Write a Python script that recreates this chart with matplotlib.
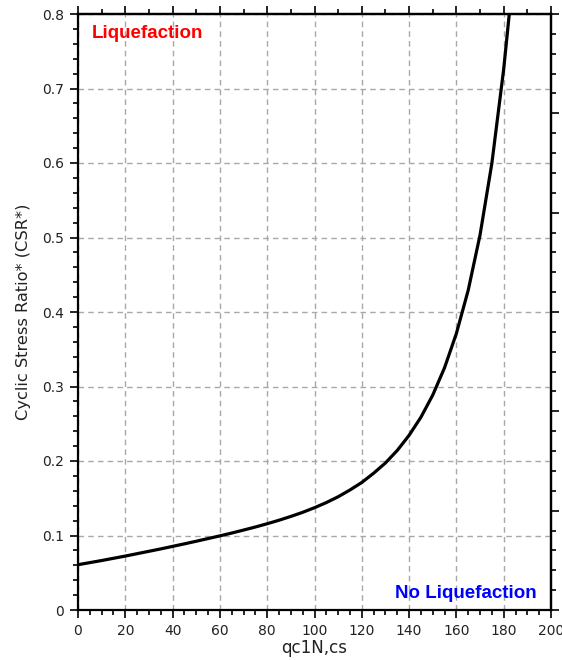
import matplotlib
matplotlib.use("Agg")
import matplotlib.pyplot as plt
from matplotlib.ticker import MultipleLocator, NullFormatter

# Data
qc1n = [0, 5, 10, 15, 20, 25, 30, 35, 40, 45, 50, 55, 60, 65, 70, 75, 80, 85, 90, 95,
        100, 105, 110, 115, 120, 125, 130, 135, 140, 145, 150, 155, 160, 165, 170,
        175, 180, 182.5, 185]
csr = [0.0608, 0.0636, 0.0664, 0.0694, 0.0724, 0.0756, 0.0788, 0.0820, 0.0854, 0.0888,
       0.0923, 0.0959, 0.0995, 0.1033, 0.1073, 0.1114, 0.1158, 0.1205, 0.1256, 0.1311,
       0.1373, 0.1442, 0.1520, 0.1611, 0.1712, 0.1836, 0.1974, 0.2142, 0.2345, 0.2588,
       0.2885, 0.3253, 0.3713, 0.4293, 0.5035, 0.5997, 0.7261, 0.8045, 0.8965]

x_ticks = [0, 20, 40, 60, 80, 100, 120, 140, 160, 180, 200]
y_ticks = [0, 0.1, 0.2, 0.3, 0.4, 0.5, 0.6, 0.7, 0.8]
y_tick_labels = ["0", "0.1", "0.2", "0.3", "0.4", "0.5", "0.6", "0.7", "0.8"]

plt.rcParams['font.family'] = ['DejaVu Sans']

fig = plt.figure(figsize=(5.62, 6.6), dpi=100)
ax = fig.add_axes([78/562, 1 - 610/660, (551-78)/562, (610-14)/660])

ax.plot(qc1n, csr, color='black', lw=2.3, solid_capstyle='butt')

ax.set_xlim(0, 200)
ax.set_ylim(0, 0.8)
ax.set_xticks(x_ticks)
ax.set_xticklabels([str(v) for v in x_ticks])
ax.set_yticks(y_ticks)
ax.set_yticklabels(y_tick_labels)
ax.xaxis.set_minor_locator(MultipleLocator(5))
ax.yaxis.set_minor_locator(MultipleLocator(0.02))

ax.grid(True, which='major', color='#a8a8a8', linestyle=(0, (4, 3)), lw=1.0)
ax.set_axisbelow(True)

for s in ax.spines.values():
    s.set_linewidth(1.6)
    s.set_color('black')

ax.tick_params(axis='both', which='major', direction='out', length=6, width=1.2,
               labelsize=10, colors='black', labelcolor='#222222', pad=4)
ax.tick_params(axis='both', which='minor', direction='out', length=3.5, width=1.2)

# top ticks
top = ax.secondary_xaxis('top')
top.set_xticks([0, 20, 40, 60, 80, 100, 120, 140, 160, 180, 200])
top.xaxis.set_minor_locator(MultipleLocator(10))
top.xaxis.set_major_formatter(NullFormatter())
top.tick_params(which='major', direction='out', length=6, width=1.2)
top.tick_params(which='minor', direction='out', length=3.5, width=1.2)
top.spines['top'].set_linewidth(1.6)

# right ticks
right = ax.secondary_yaxis('right')
right.set_yticks([0.8 * k / 6 for k in range(7)])
right.yaxis.set_minor_locator(MultipleLocator(0.8 / 30))
right.yaxis.set_major_formatter(NullFormatter())
right.tick_params(which='major', direction='out', length=6, width=1.2)
right.tick_params(which='minor', direction='out', length=3.5, width=1.2)
right.spines['right'].set_linewidth(1.6)

ax.set_xlabel("qc1N,cs", fontsize=12, labelpad=1, color='#222222')
ax.set_ylabel("Cyclic Stress Ratio* (CSR*)", fontsize=11.7, labelpad=8, color='#222222')

ax.text(0.029, 0.982, "Liquefaction", transform=ax.transAxes, color='#ff0000',
        fontsize=13.5, fontweight='bold', ha='left', va='top', family='Liberation Sans')
ax.text(0.970, 0.020, "No Liquefaction", transform=ax.transAxes, color='#0000ff',
        fontsize=13.5, fontweight='bold', ha='right', va='baseline', family='Liberation Sans')

fig.savefig("out.png", dpi=100)
